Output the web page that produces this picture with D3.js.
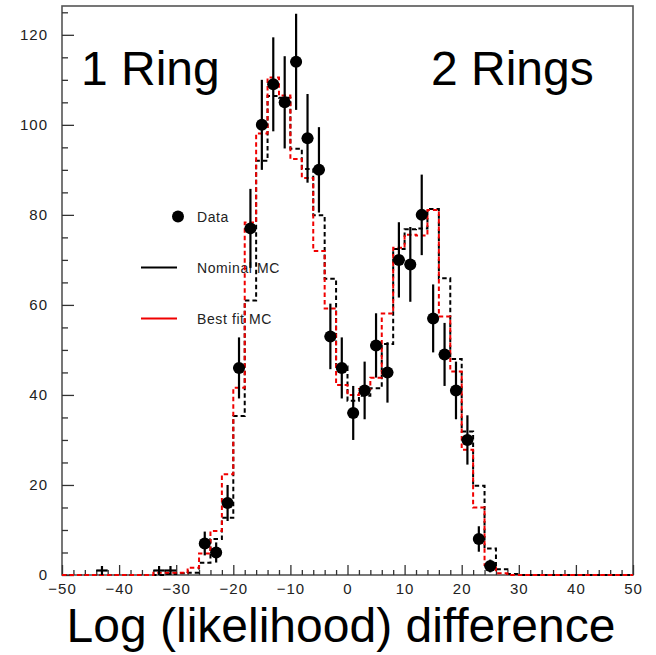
<!DOCTYPE html>
<html>
<head>
<meta charset="utf-8">
<script src="https://cdn.jsdelivr.net/npm/d3@7"></script>
<style>
  html, body { margin: 0; padding: 0; background: #fff; }
  svg { display: block; }
  text { font-family: "Liberation Sans", Arial, sans-serif; }
</style>
</head>
<body>
<svg id="chart" width="656" height="655"></svg>
<script>
// Histogram binning: 50 bins of width 2 spanning -50 .. 50
const binStart = -50;
const binWidth = 2;

// Nominal MC prediction per bin (centres -49, -47, ..., 49)
const nominalMC = [
  0, 0, 0, 0, 0, 0, 0, 0,            // -49 .. -35
  0, 0.2, 0.4, 0.5, 2.7, 8, 12.7,    // -33 .. -21
  35.3, 61, 92, 106.4, 106, 94.7, 90.2, 79.9, 65.8, 46.3, // -19 .. -1
  38.7, 39.8, 41.5, 51.3, 72.4, 76.8, 77, 81.3, 65.9, 48, // 1 .. 19
  31.9, 19.8, 5.9, 1.3, 0.2,         // 21 .. 29
  0, 0, 0, 0, 0, 0, 0, 0, 0, 0       // 31 .. 49
];

// Best fit MC per bin
const bestFitMC = [
  0, 0, 0, 0, 0, 0, 0, 0,
  0.5, 0.5, 0.5, 1.6, 4.8, 9.8, 22.4,
  41.6, 78.3, 98.1, 110.5, 106.5, 92.4, 88.2, 72, 59.2, 42.2,
  40, 41.3, 43.8, 58.1, 72.7, 75.6, 75.4, 81.1, 57.4, 45.2,
  27.8, 15, 2.2, 0.4, 0,
  0, 0, 0, 0, 0, 0, 0, 0, 0, 0
];

// Observed events: bin centre and count
const dataX = [-43, -33, -31, -25, -23, -21, -19, -17, -15, -13, -11, -9, -7, -5, -3, -1,
               1, 3, 5, 7, 9, 11, 13, 15, 17, 19, 21, 23, 25];
const dataN = [1, 1, 1, 7, 5, 16, 46, 77, 100, 109, 105, 114, 97, 90, 53, 46,
               36, 41, 51, 45, 70, 69, 80, 57, 49, 41, 30, 8, 2];

// Axis ticks
const xMajorTicks = [-50, -40, -30, -20, -10, 0, 10, 20, 30, 40, 50];
const yMajorTicks = [0, 20, 40, 60, 80, 100, 120];

const legendEntries = ["Data", "Nominal MC", "Best fit MC"];

const svg = d3.select("#chart");

const x = d3.scaleLinear().domain([-50, 50]).range([62, 633]);
const y = d3.scaleLinear().domain([0, 126.4]).range([575, 6]);

const RED = "#f00000";

// Frame
svg.append("rect")
  .attr("x", x(-50)).attr("y", y(126.4))
  .attr("width", x(50) - x(-50)).attr("height", y(0) - y(126.4))
  .attr("fill", "none").attr("stroke", "#555").attr("stroke-width", 1.6);

const labelStyle = sel => sel.selectAll("text")
  .attr("font-size", 15).attr("fill", "#222").style("letter-spacing", "1px");

// Y axis (ticks pointing inward)
const yMinorTicks = d3.range(0, 126, 5).filter(v => v % 20 !== 0);
svg.append("g").attr("transform", `translate(${x(-50)},0)`)
  .call(d3.axisLeft(y).tickValues(yMinorTicks).tickSize(-6).tickFormat(""))
  .call(g => g.select(".domain").remove())
  .call(g => g.selectAll("line").attr("stroke", "#333").attr("stroke-width", 1.3));
svg.append("g").attr("transform", `translate(${x(-50)},0)`)
  .call(d3.axisLeft(y).tickValues(yMajorTicks).tickSizeInner(-12).tickSizeOuter(0).tickPadding(14))
  .call(g => g.select(".domain").remove())
  .call(g => g.selectAll("line").attr("stroke", "#333").attr("stroke-width", 1.3))
  .call(labelStyle);

// X axis
const xMinorTicks = d3.range(-48, 50, 2).filter(v => v % 10 !== 0);
svg.append("g").attr("transform", `translate(0,${y(0)})`)
  .call(d3.axisBottom(x).tickValues(xMinorTicks).tickSize(-5).tickFormat(""))
  .call(g => g.select(".domain").remove())
  .call(g => g.selectAll("line").attr("stroke", "#333").attr("stroke-width", 1.3));
svg.append("g").attr("transform", `translate(0,${y(0)})`)
  .call(d3.axisBottom(x).tickValues(xMajorTicks).tickSizeInner(-10).tickSizeOuter(0).tickPadding(8))
  .call(g => g.select(".domain").remove())
  .call(g => g.selectAll("line").attr("stroke", "#333").attr("stroke-width", 1.3))
  .call(labelStyle);

// Legend
const legend = svg.append("g");
legend.append("circle").attr("cx", 178).attr("cy", 216.5).attr("r", 6).attr("fill", "#000");
legend.append("line").attr("x1", 141).attr("x2", 177).attr("y1", 267.5).attr("y2", 267.5)
  .attr("stroke", "#000").attr("stroke-width", 2);
legend.append("line").attr("x1", 141).attr("x2", 177).attr("y1", 318.5).attr("y2", 318.5)
  .attr("stroke", RED).attr("stroke-width", 2);
legend.selectAll("text.leg").data(legendEntries).join("text")
  .attr("class", "leg")
  .attr("x", 197)
  .attr("y", (d, i) => [221.5, 272.5, 323.5][i])
  .attr("font-size", 14).attr("fill", "#222")
  .style("letter-spacing", "0.6px")
  .text(d => d);

// Step histogram outline
function stepPoints(values) {
  const pts = values.map((v, i) => [binStart + i * binWidth, v]);
  pts.push([binStart + values.length * binWidth, values[values.length - 1]]);
  return pts;
}
const stepLine = d3.line().x(d => x(d[0])).y(d => y(d[1])).curve(d3.curveStepAfter);

svg.append("path").datum(stepPoints(nominalMC))
  .attr("d", stepLine).attr("fill", "none")
  .attr("stroke", "#000").attr("stroke-width", 2).attr("stroke-dasharray", "4.5,3");
svg.append("path").datum(stepPoints(bestFitMC))
  .attr("d", stepLine).attr("fill", "none")
  .attr("stroke", RED).attr("stroke-width", 2).attr("stroke-dasharray", "4.5,3");

// Data points with Poisson error bars
const data = dataX.map((c, i) => ({ c, n: dataN[i] }));
const pts = svg.append("g");
pts.selectAll("line.err").data(data).join("line")
  .attr("class", "err")
  .attr("x1", d => x(d.c)).attr("x2", d => x(d.c))
  .attr("y1", d => y(Math.max(0, d.n - Math.sqrt(d.n))))
  .attr("y2", d => y(d.n + Math.sqrt(d.n)))
  .attr("stroke", "#000").attr("stroke-width", 2.2);
pts.selectAll("line.wid").data(data).join("line")
  .attr("class", "wid")
  .attr("x1", d => x(d.c - binWidth / 2)).attr("x2", d => x(d.c + binWidth / 2))
  .attr("y1", d => y(d.n)).attr("y2", d => y(d.n))
  .attr("stroke", "#000").attr("stroke-width", 2.2);
pts.selectAll("circle").data(data.filter(d => d.n > 1)).join("circle")
  .attr("cx", d => x(d.c)).attr("cy", d => y(d.n)).attr("r", 6).attr("fill", "#000");

// Region labels and axis title
svg.append("text").attr("x", 81).attr("y", 85).attr("font-size", 48).attr("fill", "#000").text("1 Ring");
svg.append("text").attr("x", 431).attr("y", 85).attr("font-size", 48).attr("fill", "#000").text("2 Rings");
svg.append("text").attr("x", 341).attr("y", 642).attr("text-anchor", "middle")
  .attr("font-size", 48).attr("fill", "#000").text("Log (likelihood) difference");
</script>
</body>
</html>
